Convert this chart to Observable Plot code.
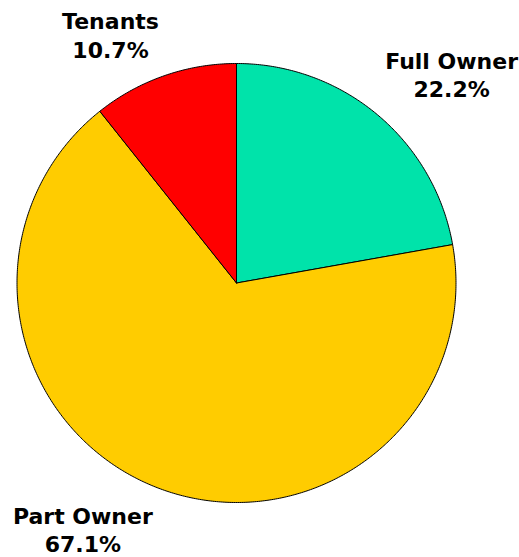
<!DOCTYPE html>
<html>
<head>
<meta charset="utf-8">
<script src="https://cdn.jsdelivr.net/npm/d3@7"></script>
<script src="https://cdn.jsdelivr.net/npm/@observablehq/plot@0.6"></script>
<style>
  html, body { margin: 0; padding: 0; background: #fff; }
  #chart svg { display: block; }
</style>
</head>
<body>
<div id="chart"></div>
<script>
// Data
const categories = ["Full Owner", "Part Owner", "Tenants"];
const shares = [22.2, 67.1, 10.7];
const colors = ["#00E3AA", "#FFCC00", "#FF0000"];
// label anchors in the pie's unit coordinates (radius = 1)
const labelX = [0.98, -0.70, -0.574];
const labelY = [0.846, -1.226, 1.027];

// Build slice outlines from the values
const pie = d3.pie().sort(null).value(d => d)(shares);
const slicePts = [];
pie.forEach((p, i) => {
  const name = categories[i];
  slicePts.push({name, x: 0, y: 0});
  const steps = Math.max(2, Math.ceil((p.endAngle - p.startAngle) / (Math.PI / 360)));
  for (let k = 0; k <= steps; k++) {
    const a = p.startAngle + (p.endAngle - p.startAngle) * k / steps;
    slicePts.push({name, x: Math.sin(a), y: Math.cos(a)});
  }
  slicePts.push({name, x: 0, y: 0});
});

const labels = categories.map((c, i) => ({
  text: `${c}\n${shares[i].toFixed(1)}%`, x: labelX[i], y: labelY[i]
}));

const cx = 236, cy = 282.5, r = 219.5;
const chart = Plot.plot({
  width: 519,
  height: 557,
  margin: 0,
  x: {domain: [-1, 1], range: [cx - r, cx + r], axis: null},
  y: {domain: [-1, 1], range: [cy + r, cy - r], axis: null},
  color: {domain: categories, range: colors},
  style: {background: "#fff"},
  marks: [
    Plot.line(slicePts, {x: "x", y: "y", z: "name", fill: "name", stroke: "#000", strokeWidth: 1, strokeLinejoin: "round"}),
    Plot.text(labels, {
      x: "x", y: "y", text: "text",
      textAnchor: "middle", lineAnchor: "bottom",
      fontSize: 22, lineHeight: 1.295, fontWeight: "bold",
      fontFamily: "'DejaVu Sans', sans-serif",
      fill: "#000"
    })
  ]
});
document.getElementById("chart").appendChild(chart);
</script>
</body>
</html>
